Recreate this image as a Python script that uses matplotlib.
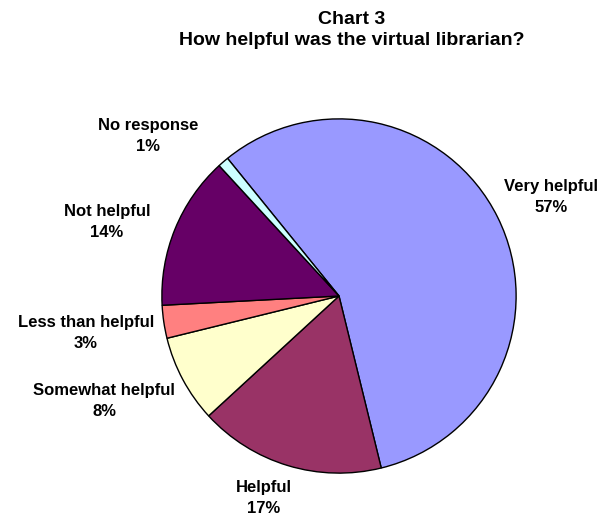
import matplotlib
matplotlib.use("Agg")
import matplotlib.pyplot as plt

categories = ["Very helpful", "Helpful", "Somewhat helpful", "Less than helpful", "Not helpful", "No response"]
values = [57, 17, 8, 3, 14, 1]
colors = ["#9999FF", "#993366", "#FFFFCC", "#FF8080", "#660066", "#CCFFFF"]
# label centre positions in pixels (x, y from top)
label_pos = [(551, 197), (264, 498), (104, 401), (86, 333), (107, 222), (148, 136)]

W, H = 613, 516
fig = plt.figure(figsize=(W / 100, H / 100), dpi=100)
cx, cy, r = 339, 296, 178
ax = fig.add_axes([(cx - r) / W, (H - cy - r) / H, 2 * r / W, 2 * r / H])
ax.pie(values, colors=colors, startangle=129, counterclock=False,
       wedgeprops=dict(edgecolor="black", linewidth=1.0), radius=1.0)
ax.set_xlim(-1.005, 1.005)
ax.set_ylim(-1.005, 1.005)
ax.set_aspect("equal")
ax.axis("off")

font = "Liberation Sans"
for cat, v, (px, py) in zip(categories, values, label_pos):
    fig.text(px / W, 1 - py / H, f"{cat}\n{v}%", ha="center", va="center",
             fontsize=12, fontweight="bold", family=font, linespacing=1.45)

fig.text(352 / W, 1 - 30 / H, "Chart 3\nHow helpful was the virtual librarian?",
         ha="center", va="center", fontsize=14, fontweight="bold", family=font,
         linespacing=1.25)

fig.savefig("out.png", dpi=100, facecolor="white")
